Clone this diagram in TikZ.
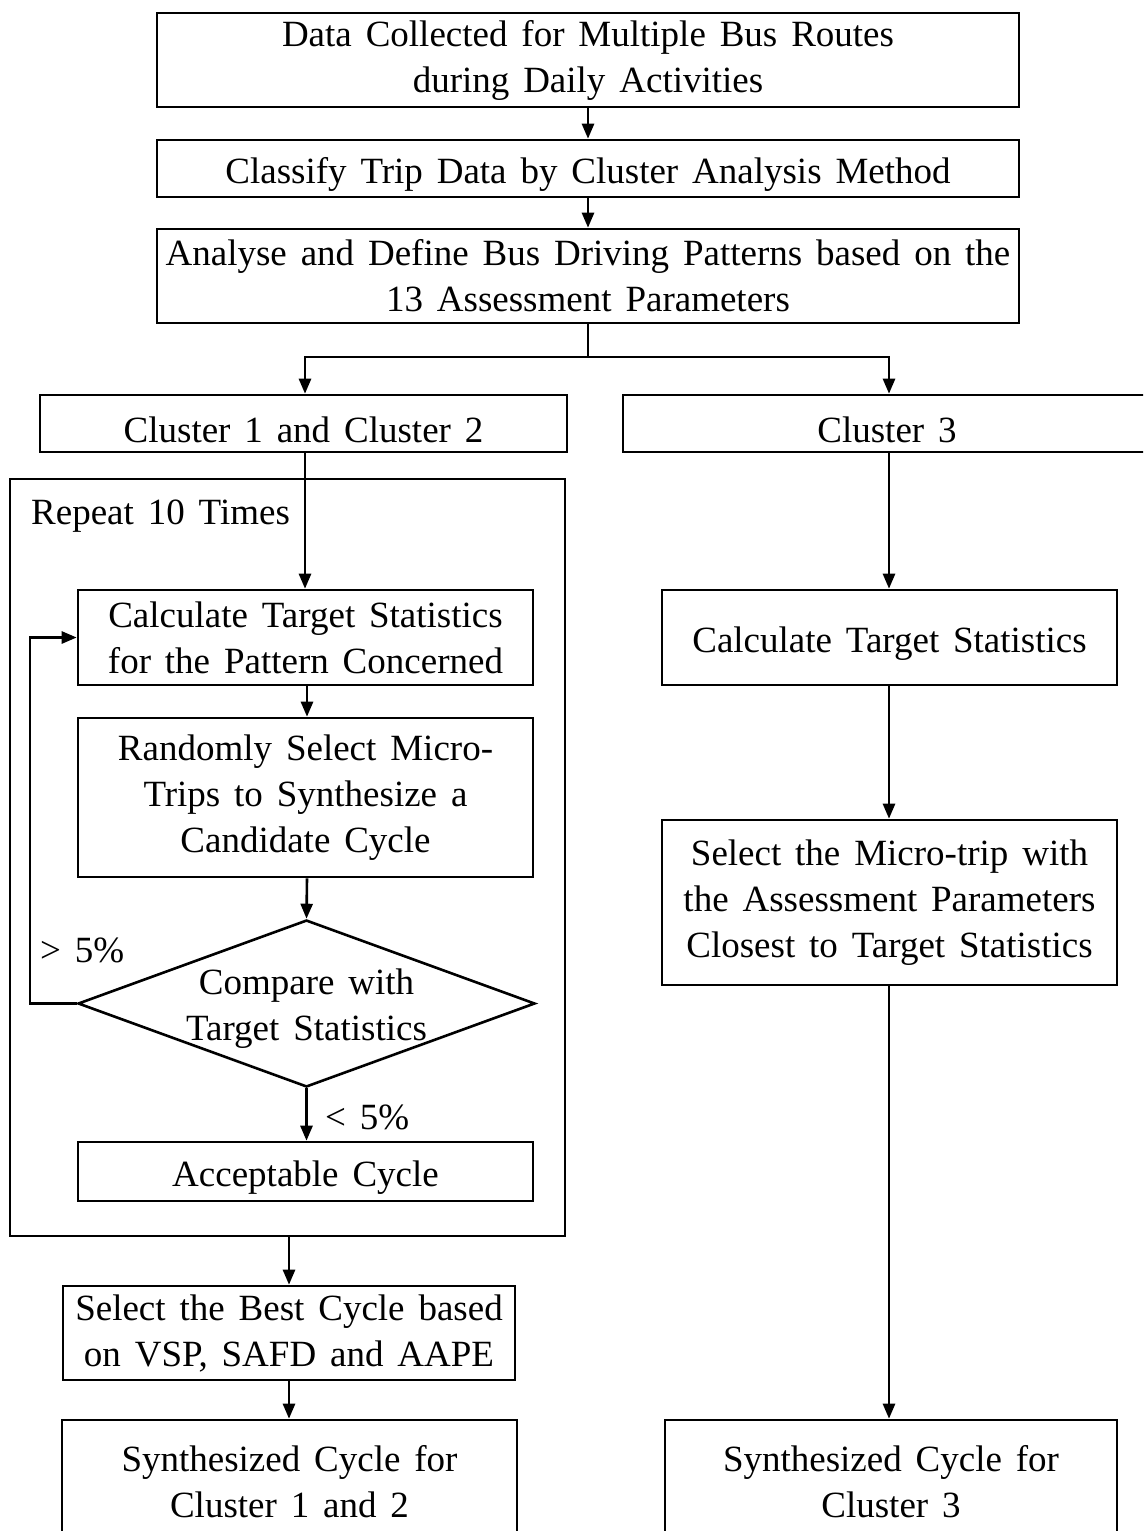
\documentclass[tikz,border=0pt]{standalone}
\usepackage{fontspec}
\setmainfont{Liberation Serif}[WordSpace=1.5]
\usetikzlibrary{arrows.meta,shapes.geometric}
\begin{document}
\begin{tikzpicture}[x=1pt,y=-1pt,
  every node/.style={font={\fontsize{37}{46}\selectfont}},
  box/.style={draw, line width=2.6pt, inner sep=0pt, align=center,
    execute at begin node={\rule{0pt}{38pt}}},
  conn/.style={line width=2.6pt},
  arr/.style={line width=2.6pt, -{Triangle[length=15pt,width=12pt]}},
  lbl/.style={inner sep=0pt}
]
\useasboundingbox (0,0) rectangle (1143,1531);
\clip (0,0) rectangle (1143,1531);
\fill[white] (0,0) rectangle (1143,1531);

% top boxes
\node[box, minimum width=862, minimum height=94] (b1) at (588,60) {Data Collected for Multiple Bus Routes\\during Daily Activities};
\node[box, minimum width=862, minimum height=57] (b2) at (588,168.5) {Classify Trip Data by Cluster Analysis Method};
\node[box, minimum width=862, minimum height=94] (b3) at (588,276) {Analyse and Define Bus Driving Patterns based on the\\13 Assessment Parameters};

% cluster boxes
\node[box, minimum width=527, minimum height=57] (c12) at (303.5,423.5) {Cluster 1 and Cluster 2};
\node[box, minimum width=528, minimum height=57] (c3) at (887,423.5) {Cluster 3};

% repeat frame
\node[draw, line width=2.6pt, inner sep=0pt, minimum width=555, minimum height=757] (loop) at (287.5,857.5) {};
\node[lbl, anchor=west] (rep) at (31,516) {Repeat 10 Times};

% left column
\node[box, minimum width=455, minimum height=95] (l1) at (305.5,637.5) {Calculate Target Statistics\\for the Pattern Concerned};
\node[box, minimum width=455, minimum height=159] (l2) at (305.5,797.5) {Randomly Select Micro-\\Trips to Synthesize a\\Candidate Cycle};
\node[draw, diamond, line width=2.6pt, inner sep=0pt, minimum width=457, minimum height=167] (dia) at (306.5,1003.5) {};
\node[align=center, inner sep=0pt] (diat) at ([yshift=-5pt]dia.center) {Compare with\\Target Statistics};
\node[box, minimum width=455, minimum height=59] (l3) at (305.5,1171.5) {Acceptable Cycle};
\node[box, minimum width=452, minimum height=94] (l4) at (289,1333) {Select the Best Cycle based\\on VSP, SAFD and AAPE};
\node[box, minimum width=455, minimum height=124] (l5) at (289.5,1482) {Synthesized Cycle for\\Cluster 1 and 2};

% right column
\node[box, minimum width=455, minimum height=95] (r1) at (889.5,637.5) {Calculate Target Statistics};
\node[box, minimum width=455, minimum height=165] (r2) at (889.5,902.5) {Select the Micro-trip with\\the Assessment Parameters\\Closest to Target Statistics};
\node[box, minimum width=452, minimum height=124] (r3) at (891,1482) {Synthesized Cycle for\\Cluster 3};

% labels
\node[lbl, anchor=west] (gt) at (40,950) {> 5\%};
\node[lbl, anchor=west] (lt) at (325,1117) {< 5\%};

% connectors
\draw[arr] (b1.south) -- (b2.north);
\draw[arr] (b2.south) -- (b3.north);
\coordinate (split) at (588,357);
\draw[conn] (b3.south) -- (split);
\draw[arr] (split) -| (c12.north -| 305,0);
\draw[arr] (split) -| (c3.north -| 889,0);
\draw[arr] (c12.south -| 305,0) -- (l1.north -| 305,0);
\draw[arr] (l1.south -| 307,0) -- (l2.north -| 307,0);
\draw[arr] (l2.south -| 307,0) -- (dia.north);
\draw[arr] (dia.south) -- (l3.north -| dia.south);
\coordinate (lp) at (30,1003.5);
\draw[arr] (dia.west) -- (lp) |- (l1.west);
\draw[arr] (loop.south -| 289,0) -- (l4.north -| 289,0);
\draw[arr] (l4.south -| 289,0) -- (l5.north -| 289,0);
\draw[arr] (c3.south -| 889,0) -- (r1.north -| 889,0);
\draw[arr] (r1.south -| 889,0) -- (r2.north -| 889,0);
\draw[arr] (r2.south -| 889,0) -- (r3.north -| 889,0);
\end{tikzpicture}
\end{document}
